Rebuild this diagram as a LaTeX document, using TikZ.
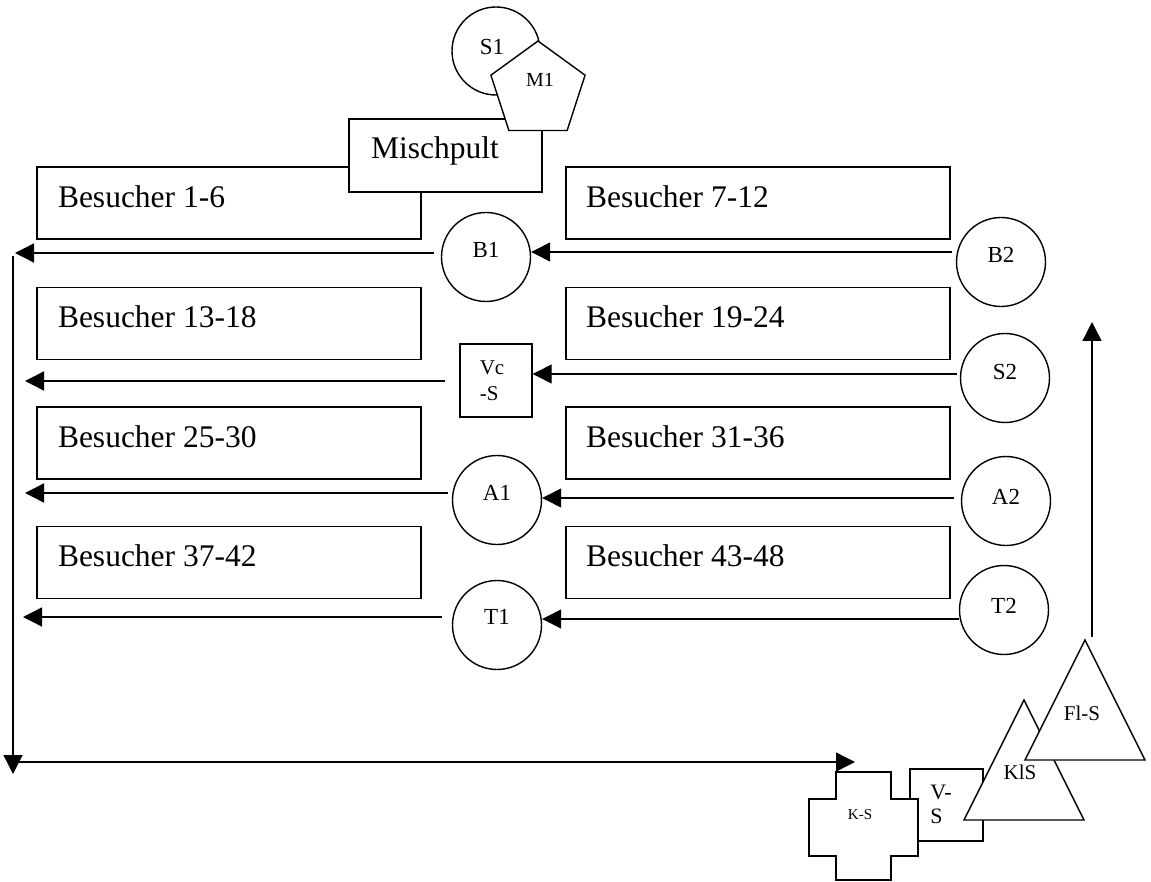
\documentclass[tikz,border=0pt]{standalone}
\usepackage{fontspec}
\setmainfont{Liberation Serif}
\usetikzlibrary{arrows.meta,shapes.geometric,calc}
\begin{document}
\begin{tikzpicture}[x=1pt,y=-1pt,line width=1.4pt,
  visbox/.style={draw,fill=white,minimum width=384pt,minimum height=72pt,inner sep=0pt},
  bigtxt/.style={font=\fontsize{31.5}{37}\selectfont,inner sep=0pt,anchor=base west},
  ring/.style={circle,draw,fill=white,minimum size=89pt,inner sep=0pt},
  ringlbl/.style={font=\fontsize{23}{27}\selectfont,inner sep=0pt},
  smalltxt/.style={inner sep=0pt,align=left},
  arr/.style={-{Triangle[length=19pt,width=19pt]},line width=1.4pt}]
\useasboundingbox (0,0) rectangle (1151,882);

% visitor boxes
\node[visbox] (b1) at (229,203) {};
\node[visbox] (b2) at (758,203) {};
\node[visbox] (b3) at (229,323.5) {};
\node[visbox] (b4) at (758,323.5) {};
\node[visbox] (b5) at (229,443) {};
\node[visbox] (b6) at (758,443) {};
\node[visbox] (b7) at (229,562.5) {};
\node[visbox] (b8) at (758,562.5) {};
\node[bigtxt] (t1) at ($(b1.north west)+(21,41)$) {Besucher 1-6};
\node[bigtxt] (t2) at ($(b2.north west)+(20,41)$) {Besucher 7-12};
\node[bigtxt] (t3) at ($(b3.north west)+(21,41)$) {Besucher 13-18};
\node[bigtxt] (t4) at ($(b4.north west)+(20,41)$) {Besucher 19-24};
\node[bigtxt] (t5) at ($(b5.north west)+(21,41)$) {Besucher 25-30};
\node[bigtxt] (t6) at ($(b6.north west)+(20,41)$) {Besucher 31-36};
\node[bigtxt] (t7) at ($(b7.north west)+(21,41)$) {Besucher 37-42};
\node[bigtxt] (t8) at ($(b8.north west)+(20,41)$) {Besucher 43-48};

% mixing desk
\node[draw,fill=white,minimum width=193pt,minimum height=73pt,inner sep=0pt] (mp) at (445.5,155.5) {};
\node[bigtxt] (mpt) at ($(mp.north west)+(22,40)$) {Mischpult};

% S1 and M1
\node[ring,minimum size=88pt] (S1) at (496,51) {};
\node[ringlbl] (S1t) at (492,47) {S1};
\node[regular polygon,regular polygon sides=5,draw,fill=white,minimum size=99pt,inner sep=0pt] (M1) at (538,90.5) {};
\node[ringlbl,font=\fontsize{20}{24}\selectfont] (M1t) at (540,80) {M1};

% speakers
\node[ring] (B1) at (486,257) {};
\node[ring] (B2) at (1001,262) {};
\node[ring] (S2) at (1005,378) {};
\node[ring] (A1) at (497,500) {};
\node[ring] (A2) at (1006,501) {};
\node[ring] (T1) at (497,625) {};
\node[ring] (T2) at (1004,610) {};
\node[ringlbl] (B1t) at ([yshift=7pt]B1.center) {B1};
\node[ringlbl] (B2t) at ([yshift=7pt]B2.center) {B2};
\node[ringlbl] (S2t) at ([yshift=6pt]S2.center) {S2};
\node[ringlbl] (A1t) at ([yshift=7pt]A1.center) {A1};
\node[ringlbl] (A2t) at ([yshift=4pt]A2.center) {A2};
\node[ringlbl] (T1t) at ([yshift=8pt]T1.center) {T1};
\node[ringlbl] (T2t) at ([yshift=4pt]T2.center) {T2};

% Vc-S box
\node[draw,fill=white,minimum width=72pt,minimum height=73pt,inner sep=0pt] (Vc) at (496,380.5) {};
\node[smalltxt,font=\fontsize{21}{26}\selectfont] (Vct) at (492,381) {Vc\\-S};

% row connectors
\coordinate (L1) at (15,253);
\coordinate (L2) at (25,381);
\coordinate (L3) at (25,493);
\coordinate (L4) at (23,617);
\coordinate (R1) at (0,252);
\coordinate (R2) at (0,374);
\coordinate (R3) at (0,498);
\coordinate (R4) at (0,619);
\draw[arr,shorten <=7pt] (B1.west |- L1) -- (L1);
\draw[arr,shorten <=4pt] (B2.west |- R1) -- (B1.east |- R1);
\draw[arr,shorten <=14pt] (Vc.west |- L2) -- (L2);
\draw[arr,shorten <=3pt] (S2.west |- R2) -- (Vc.east |- R2);
\draw[arr,shorten <=4pt] (A1.west |- L3) -- (L3);
\draw[arr,shorten <=7pt] (A2.west |- R3) -- (A1.east |- R3);
\draw[arr,shorten <=10pt] (T1.west |- L4) -- (L4);
\draw[arr] (T2.west |- R4) -- (T1.east |- R4);

% outer path
\coordinate (V0) at (13,256);
\coordinate (V1) at (13,774);
\coordinate (H1) at (855,762);
\coordinate (U0) at (1092,637);
\coordinate (U1) at (1092,322);
\draw[arr] (V0) -- (V1);
\draw[arr] (V0 |- H1) -- (H1);
\draw[arr] (U0) -- (U1);

% bottom right group
\node[draw,fill=white,minimum width=73pt,minimum height=72pt,inner sep=0pt] (VS) at (946.5,805) {};
\node[smalltxt,font=\fontsize{22}{24}\selectfont] (VSt) at (941,804) {V-\\S};
\draw[fill=white] (836,772) -- (891,772) -- (891,799) -- (918,799) -- (918,856) -- (891,856)
  -- (891,880) -- (836,880) -- (836,856) -- (809,856) -- (809,799) -- (836,799) -- cycle;
\node[ringlbl,font=\fontsize{15}{18}\selectfont] (KS) at (860,815) {K-S};
\draw[fill=white] (964,820) -- (1024,700) -- (1084,820) -- cycle;
\node[ringlbl,font=\fontsize{21}{25}\selectfont] (KlS) at (1020,772) {KlS};
\draw[fill=white] (1025,760) -- (1085,640) -- (1145,760) -- cycle;
\node[ringlbl,font=\fontsize{21}{25}\selectfont] (FlS) at (1082,713) {Fl-S};
\end{tikzpicture}
\end{document}
